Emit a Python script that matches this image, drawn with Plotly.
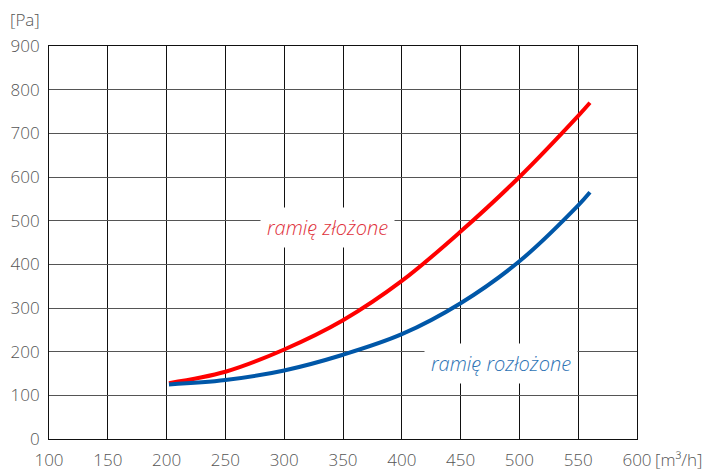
import plotly.graph_objects as go

x_vals = [202, 250, 300, 350, 400, 450, 500, 550, 560]
red_vals = [128, 154, 205, 272, 362, 475, 600, 740, 770]
blue_vals = [125, 135, 157, 193, 240, 311, 407, 535, 565]
x_ticks = [100, 150, 200, 250, 300, 350, 400, 450, 500, 550, 600]
y_ticks = [0, 100, 200, 300, 400, 500, 600, 700, 800, 900]

FONT = "Open Sans"
GRAY = "#555555"
OFF = 8  # page body margin offset
W, H = 710 - OFF, 470 - OFF
L, R, T, B = 49 - OFF, 73, 46 - OFF, 31
PW, PH = W - L - R, H - T - B


def px_x(p):
    return (p - OFF - L) / PW


def px_y(p):
    return (H - B - (p - OFF)) / PH


fig = go.Figure()
fig.add_trace(go.Scatter(x=x_vals, y=red_vals, mode="lines",
                         line=dict(color="#ff0000", width=4, shape="spline", smoothing=1.0),
                         showlegend=False))
fig.add_trace(go.Scatter(x=x_vals, y=blue_vals, mode="lines",
                         line=dict(color="#0057a8", width=4, shape="spline", smoothing=1.0),
                         showlegend=False))

tickfont = dict(family=FONT, size=17, color=GRAY, weight=300)

fig.update_layout(
    width=W, height=H,
    margin=dict(l=L, r=R, t=T, b=B, autoexpand=False),
    plot_bgcolor="white", paper_bgcolor="white",
    font=dict(family=FONT, color=GRAY, size=17),
    xaxis=dict(range=[100, 600], tickvals=x_ticks, showgrid=True,
               gridcolor="#111111", gridwidth=1, zeroline=False,
               showline=True, linecolor="#111111", linewidth=1, mirror=True,
               ticks="outside", ticklen=0, ticklabelstandoff=6,
               tickfont=tickfont, automargin=False, fixedrange=True),
    yaxis=dict(range=[0, 900], tickvals=y_ticks, showgrid=True,
               gridcolor="#555555", gridwidth=1, zeroline=False,
               showline=True, linecolor="#111111", linewidth=1, mirror=True,
               ticks="outside", ticklen=0, ticklabelstandoff=5,
               tickfont=tickfont, automargin=False, fixedrange=True),
    annotations=[
        dict(x=337, y=485, xref="x", yref="y", text="<i>ramię złożone</i>",
             showarrow=False, bgcolor="white", borderpad=6,
             font=dict(family=FONT, size=20, color="#e0323c", weight=300)),
        dict(x=484, y=172, xref="x", yref="y", text="<i>ramię rozłożone</i>",
             showarrow=False, bgcolor="white", borderpad=6,
             font=dict(family=FONT, size=20, color="#2f74b5", weight=300)),
        dict(x=px_x(8), y=px_y(20), xref="paper", yref="paper", text="[Pa]",
             xanchor="left", yanchor="middle", showarrow=False,
             font=dict(family=FONT, size=17, color="#555555", weight=300)),
        dict(x=px_x(653), y=px_y(459), xref="paper", yref="paper", text="[m³/h]",
             xanchor="left", yanchor="middle", showarrow=False,
             font=dict(family=FONT, size=17, color="#555555", weight=300)),
    ],
)

fig.write_html("out.html")
